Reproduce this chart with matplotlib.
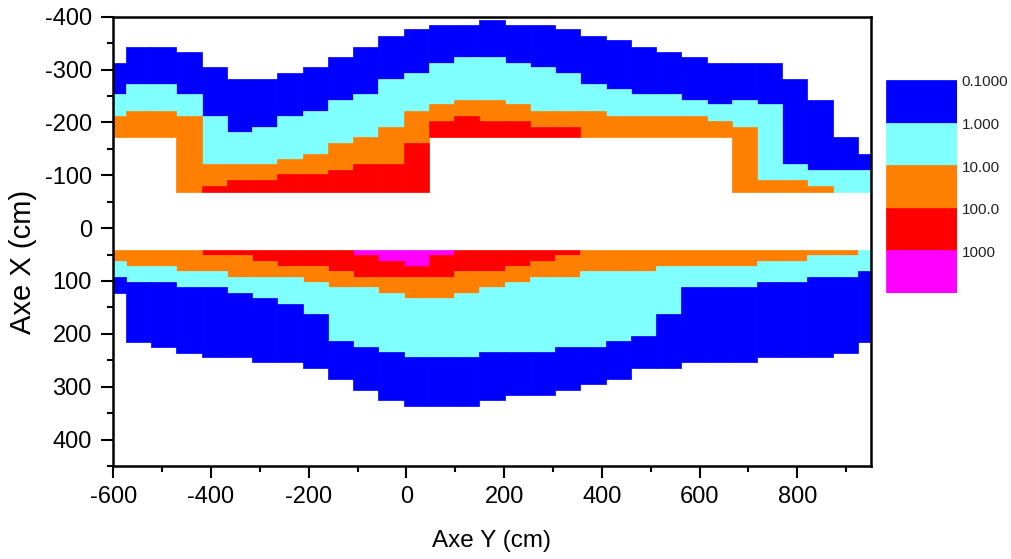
import matplotlib
matplotlib.use("Agg")
import matplotlib.pyplot as plt
import numpy as np
from matplotlib import font_manager

plt.rcParams['font.family'] = ['Liberation Sans', 'DejaVu Sans']
plt.rcParams['axes.unicode_minus'] = False

names = sorted({f.name for f in font_manager.fontManager.ttflist})
narrow = 'Liberation Sans Narrow' if 'Liberation Sans Narrow' in names else 'Liberation Sans'
print(narrow)

# Column centres (Axe Y, cm)
x_centres = [-600.0, -548.3, -496.7, -445.0, -393.3, -341.7, -290.0, -238.3,
             -186.7, -135.0, -83.3, -31.7, 20.0, 71.7, 123.3, 175.0, 226.7,
             278.3, 330.0, 381.7, 433.3, 485.0, 536.7, 588.3, 640.0, 691.7,
             743.3, 795.0, 846.7, 898.3, 950.0]

# Upper half (negative Axe X): band limits, from outer edge inwards
top_blue = [-313, -343, -343, -334, -304, -283, -283, -294, -304, -324, -343,
            -364, -376, -385, -385, -394, -385, -385, -376, -364, -355, -343,
            -334, -324, -313, -313, -313, -283, -243, -172, -141]
top_cyan = [-253, -273, -273, -253, -213, -182, -192, -213, -222, -243, -253,
            -283, -294, -313, -324, -324, -313, -304, -294, -273, -264, -253,
            -253, -243, -234, -243, -234, -122, -110, -110, -110]
top_orange = [-213, -222, -222, -213, -122, -122, -122, -131, -141, -162, -172,
              -192, -222, -234, -243, -243, -234, -222, -222, -222, -213, -213,
              -213, -213, -203, -192, -92, -92, -80, -69, -69]
top_red = [-172, -172, -172, -69, -80, -92, -92, -102, -102, -110, -122,
           -122, -162, -203, -213, -203, -203, -192, -192, -172, -172, -172,
           -172, -172, -172, -69, -69, -69, -69, -69, -69]
top_inner = [-172, -172, -172, -69, -69, -69, -69, -69, -69, -69, -69,
             -69, -69, -172, -172, -172, -172, -172, -172, -172, -172, -172,
             -172, -172, -172, -69, -69, -69, -69, -69, -69]

# Lower half (positive Axe X): band limits, from inner edge outwards
bot_magenta = [41] * 31
bot_red = [41, 41, 41, 41, 41, 41, 41, 41, 41, 41, 51, 62, 71, 51, 41, 41,
           41, 41, 41, 41, 41, 41, 41, 41, 41, 41, 41, 41, 41, 41, 41]
bot_orange = [41, 41, 41, 41, 51, 51, 62, 71, 71, 81, 92, 92, 92, 92, 81, 81,
              71, 62, 51, 41, 41, 41, 41, 41, 41, 41, 41, 41, 41, 41, 41]
bot_cyan = [62, 71, 71, 81, 81, 92, 92, 92, 101, 112, 112, 122, 132, 132, 122,
            112, 101, 92, 92, 81, 81, 81, 71, 71, 71, 71, 62, 62, 51, 51, 41]
bot_blue = [92, 101, 101, 112, 112, 122, 132, 143, 162, 213, 225, 234, 244,
            244, 244, 234, 234, 234, 225, 225, 213, 204, 162, 112, 112, 112,
            101, 101, 92, 92, 81]
bot_outer = [122, 215, 225, 236, 244, 244, 254, 254, 264, 285, 306, 326, 336,
             336, 336, 326, 315, 315, 306, 294, 285, 264, 264, 254, 254, 254,
             244, 244, 244, 236, 215]

level_labels = ["0.1000", "1.000", "10.00", "100.0", "1000"]
level_colors = ["#0000FF", "#80FFFF", "#FF8000", "#FF0000", "#FF00FF"]

fig = plt.figure(figsize=(10.12, 5.59), dpi=100)
ax = fig.add_axes([113.3 / 1012, (559 - 466) / 559, 757.3 / 1012, 449.3 / 559])

x = np.array(x_centres)
w = x[1] - x[0]

def band(a, b, color):
    a = np.array(a, float)
    b = np.array(b, float)
    h = b - a
    m = h > 0
    ax.bar(x[m], h[m], bottom=a[m], width=w, color=color,
           edgecolor=color, linewidth=0.5, align='center')

# upper half
band(top_blue, top_cyan, level_colors[0])
band(top_cyan, top_orange, level_colors[1])
band(top_orange, top_red, level_colors[2])
band(top_red, top_inner, level_colors[3])
# lower half
band(bot_magenta, bot_red, level_colors[4])
band(bot_red, bot_orange, level_colors[3])
band(bot_orange, bot_cyan, level_colors[2])
band(bot_cyan, bot_blue, level_colors[1])
band(bot_blue, bot_outer, level_colors[0])

ax.set_xlim(-600, 950)
ax.set_ylim(450, -400)
ax.set_xticks([-600, -400, -200, 0, 200, 400, 600, 800])
ax.set_xticks(np.arange(-500, 950, 200), minor=True)
ax.set_yticks([-400, -300, -200, -100, 0, 100, 200, 300, 400])
ax.set_yticks(np.arange(-350, 451, 100), minor=True)
ax.tick_params(which='major', direction='out', length=8.5, width=1.5,
               colors='black')
ax.tick_params(axis='y', which='major', pad=7)
ax.tick_params(axis='x', which='major', pad=6)
ax.tick_params(which='minor', direction='out', length=4.5, width=1.5)
ax.tick_params(top=False, right=False)
for lab in ax.get_xticklabels() + ax.get_yticklabels():
    lab.set_fontfamily([narrow, 'DejaVu Sans'])
    lab.set_fontsize(17)
for s in ax.spines.values():
    s.set_linewidth(1.8)

ax.set_xlabel("Axe Y (cm)", fontsize=17.5, va='center')
ax.set_ylabel("Axe X (cm)", fontsize=21, va='center')
ax.xaxis.set_label_coords((492 - 113.3) / 757.3, (466 - 541) / 449.3)
ax.yaxis.set_label_coords((23 - 113.3) / 757.3, (466 - 262) / 449.3)

# colour scale legend
lax = fig.add_axes([886 / 1012, (559 - 293) / 559, 71 / 1012, 213 / 559])
for i, c in enumerate(level_colors):
    lax.bar(0.5, 1, bottom=len(level_colors) - 1 - i, width=1, color=c,
            edgecolor=c, linewidth=0.5)
lax.set_xlim(0, 1)
lax.set_ylim(0, len(level_colors))
lax.axis('off')
block_top_px = [80, 122.7, 165.3, 208, 250.7]
for lab, yp in zip(level_labels, block_top_px):
    fig.text(961.5 / 1012, 1 - (yp + 2.5) / 559, lab, fontsize=11,
             va='center', ha='left', color='#222222')

fig.savefig("out.png", dpi=100)
